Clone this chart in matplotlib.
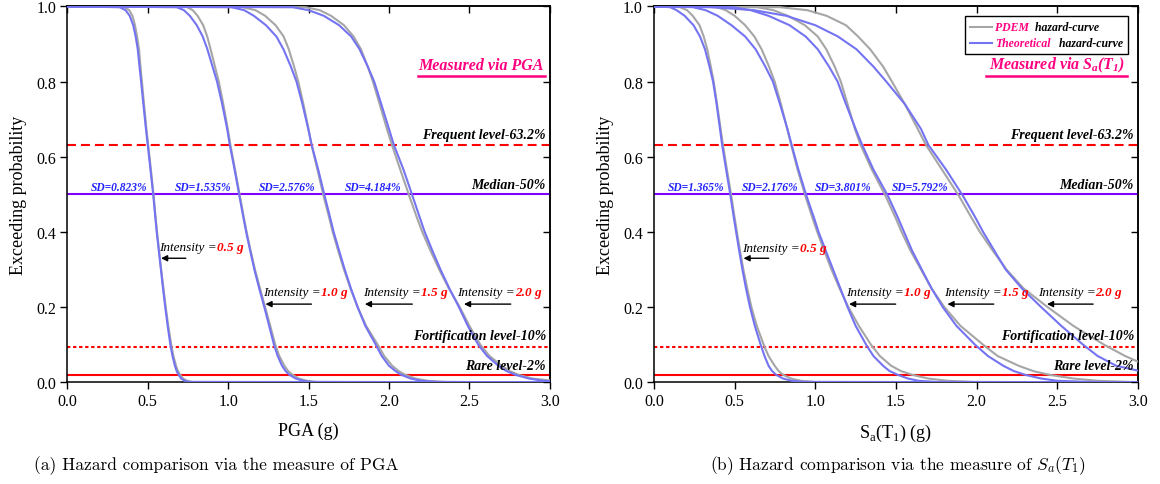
import matplotlib
matplotlib.use('Agg')
from matplotlib import pyplot as pl
from matplotlib.lines import Line2D
from matplotlib.offsetbox import (AnchoredOffsetbox, AnnotationBbox,
                                  DrawingArea, HPacker, TextArea, VPacker)

pl.rcParams['font.family'] = 'Liberation Serif'

levels = [1.0, 0.998, 0.99, 0.975, 0.95, 0.92, 0.886, 0.84, 0.80, 0.74, 0.674,
          0.632, 0.566, 0.496, 0.44, 0.40, 0.35, 0.30, 0.25, 0.20, 0.15, 0.10,
          0.07, 0.044, 0.03, 0.02, 0.01, 0.004, 0.001]

# ---- PGA panel: intensity (g) reached at each level ----
pga_05_theo = [0, 0.325, 0.362, 0.388, 0.41, 0.425, 0.438, 0.449, 0.459, 0.473, 0.489, 0.50, 0.517, 0.535, 0.547, 0.556, 0.569, 0.582, 0.595, 0.609, 0.624, 0.641, 0.654, 0.669, 0.68, 0.692, 0.708, 0.73, 0.76]
pga_05_pdem = [0, 0.355, 0.385, 0.405, 0.421, 0.434, 0.446, 0.455, 0.464, 0.477, 0.492, 0.503, 0.52, 0.537, 0.549, 0.558, 0.571, 0.584, 0.598, 0.612, 0.628, 0.646, 0.66, 0.676, 0.688, 0.702, 0.72, 0.745, 0.78]
pga_10_theo = [0, 0.68, 0.725, 0.762, 0.805, 0.842, 0.871, 0.903, 0.931, 0.963, 0.994, 1.01, 1.04, 1.07, 1.094, 1.112, 1.137, 1.163, 1.193, 1.225, 1.255, 1.285, 1.308, 1.335, 1.357, 1.38, 1.42, 1.465, 1.52]
pga_10_pdem = [0, 0.745, 0.78, 0.81, 0.845, 0.87, 0.891, 0.918, 0.942, 0.97, 0.998, 1.014, 1.043, 1.073, 1.097, 1.115, 1.14, 1.167, 1.198, 1.23, 1.262, 1.293, 1.318, 1.35, 1.373, 1.40, 1.44, 1.49, 1.55]
pga_15_theo = [0, 1.02, 1.10, 1.16, 1.235, 1.30, 1.344, 1.39, 1.425, 1.462, 1.498, 1.519, 1.56, 1.60, 1.633, 1.656, 1.69, 1.725, 1.763, 1.805, 1.853, 1.918, 1.955, 2.0, 2.04, 2.075, 2.135, 2.2, 2.3]
pga_15_pdem = [0, 1.09, 1.17, 1.23, 1.295, 1.345, 1.377, 1.41, 1.436, 1.468, 1.50, 1.518, 1.555, 1.593, 1.627, 1.65, 1.684, 1.72, 1.76, 1.805, 1.858, 1.93, 1.97, 2.02, 2.06, 2.10, 2.165, 2.24, 2.35]
pga_20_theo = [0, 1.40, 1.50, 1.595, 1.69, 1.765, 1.817, 1.868, 1.908, 1.952, 2.0, 2.03, 2.09, 2.146, 2.19, 2.222, 2.27, 2.32, 2.375, 2.435, 2.49, 2.555, 2.61, 2.68, 2.73, 2.785, 2.87, 2.96]
pga_20_pdem = [0, 1.48, 1.57, 1.64, 1.72, 1.78, 1.826, 1.868, 1.90, 1.942, 1.987, 2.018, 2.07, 2.126, 2.172, 2.207, 2.258, 2.312, 2.372, 2.44, 2.50, 2.568, 2.625, 2.70, 2.75, 2.805, 2.89]

# ---- Sa(T1) panel ----
sa_05_theo = [0, 0.10, 0.14, 0.19, 0.245, 0.285, 0.316, 0.344, 0.366, 0.388, 0.409, 0.422, 0.447, 0.474, 0.494, 0.509, 0.528, 0.548, 0.57, 0.595, 0.625, 0.661, 0.685, 0.71, 0.732, 0.757, 0.80, 0.855, 0.93]
sa_05_pdem = [0, 0.16, 0.205, 0.24, 0.282, 0.308, 0.33, 0.352, 0.37, 0.391, 0.413, 0.427, 0.452, 0.479, 0.499, 0.514, 0.533, 0.554, 0.578, 0.604, 0.637, 0.68, 0.71, 0.748, 0.772, 0.80, 0.85, 0.91, 1.0]
sa_10_theo = [0, 0.24, 0.32, 0.395, 0.48, 0.565, 0.63, 0.69, 0.737, 0.781, 0.827, 0.853, 0.895, 0.945, 0.99, 1.02, 1.065, 1.11, 1.155, 1.20, 1.25, 1.315, 1.36, 1.42, 1.46, 1.51, 1.575, 1.64, 1.75]
sa_10_pdem = [0, 0.39, 0.445, 0.50, 0.565, 0.622, 0.667, 0.713, 0.748, 0.787, 0.826, 0.85, 0.89, 0.938, 0.98, 1.012, 1.055, 1.10, 1.15, 1.205, 1.27, 1.345, 1.40, 1.47, 1.53, 1.60, 1.70, 1.82, 1.98]
sa_15_theo = [0, 0.49, 0.60, 0.71, 0.84, 0.94, 1.015, 1.085, 1.138, 1.19, 1.25, 1.29, 1.36, 1.45, 1.51, 1.55, 1.60, 1.66, 1.72, 1.79, 1.875, 1.99, 2.07, 2.165, 2.23, 2.30, 2.40, 2.50, 2.70]
sa_15_pdem = [0, 0.64, 0.74, 0.83, 0.935, 1.015, 1.068, 1.12, 1.158, 1.20, 1.245, 1.28, 1.35, 1.435, 1.495, 1.535, 1.59, 1.655, 1.72, 1.80, 1.90, 2.04, 2.13, 2.26, 2.35, 2.45, 2.60, 2.75, 2.95]
sa_20_theo = [0, 0.35, 0.62, 0.82, 1.0, 1.14, 1.255, 1.36, 1.44, 1.555, 1.655, 1.70, 1.81, 1.915, 1.99, 2.04, 2.11, 2.18, 2.28, 2.40, 2.525, 2.66, 2.75, 2.865]
sa_20_pdem = [0, 0.78, 0.95, 1.07, 1.19, 1.265, 1.34, 1.42, 1.475, 1.555, 1.635, 1.685, 1.785, 1.89, 1.965, 2.02, 2.10, 2.185, 2.29, 2.44, 2.60, 2.79, 2.92]

# probability left at the right edge (x = 3.0 g) of each curve, same order as above
pga_end_theo = [0.0, 0.0, 0.0, 0.003]
pga_end_pdem = [0.0, 0.0, 0.0, 0.005]
sa_end_theo = [0.0, 0.0, 0.0, 0.031]
sa_end_pdem = [0.0, 0.0, 0.001, 0.055]

# reference levels
level_values = [0.632, 0.5, 0.095, 0.02]
level_labels = ['Frequent level-63.2%', 'Median-50%', 'Fortification level-10%', 'Rare level-2%']

intensity_labels = ['0.5 g', '1.0 g', '1.5 g', '2.0 g']

pga_sd_labels = ['SD=0.823%', 'SD=1.535%', 'SD=2.576%', 'SD=4.184%']
pga_sd_x = [0.325, 0.846, 1.365, 1.90]
sa_sd_labels = ['SD=1.365%', 'SD=2.176%', 'SD=3.801%', 'SD=5.792%']
sa_sd_x = [0.26, 0.72, 1.175, 1.647]

# intensity annotation text anchors and arrow tail/head
pga_text_x = [0.572, 1.22, 1.84, 2.424]
pga_text_y = [0.36, 0.24, 0.24, 0.24]
pga_arrow_tail = [0.737, 1.518, 2.145, 2.757]
pga_arrow_head = [0.583, 1.232, 1.85, 2.466]
pga_arrow_y = [0.33, 0.208, 0.208, 0.208]

sa_text_x = [0.544, 1.193, 1.80, 2.378]
sa_text_y = [0.356, 0.24, 0.24, 0.24]
sa_arrow_tail = [0.711, 1.498, 2.106, 2.722]
sa_arrow_head = [0.555, 1.209, 1.819, 2.436]
sa_arrow_y = [0.33, 0.208, 0.208, 0.208]

GRAY = '#a6a6a6'
BLUE = '#7474f2'
PINK = '#ff0080'
RED = '#ff0000'
PURPLE = '#8000ff'
SDBLUE = '#2222ff'


def curve(xs, end):
    # the read levels, then the value at the right edge of the axis
    return list(xs) + [3.0], levels[:len(xs)] + [end]


def draw_panel(ax, pdem, theo, end_pdem, end_theo, sd_labels, sd_x,
               text_x, text_y, arrow_tail, arrow_head, arrow_y,
               measured, line_span, xlabel):

    for xp, xt, ep, et in zip(pdem, theo, end_pdem, end_theo):
        ax.plot(*curve(xp, ep), color=GRAY, lw=1.5, zorder=3)
        ax.plot(*curve(xt, et), color=BLUE, lw=1.5, zorder=4)

    styles = [dict(color=RED, ls=(0, (4.3, 2.4))),
              dict(color=PURPLE, ls='-'),
              dict(color=RED, ls=(0, (1.6, 1.3))),
              dict(color=RED, ls='-')]
    offsets = [0.028, 0.025, 0.029, 0.026]
    for val, lab, st, off in zip(level_values, level_labels, styles, offsets):
        ax.axhline(val, lw=1.5, zorder=2, **st)
        ax.text(2.975, val+off, lab, ha='right', va='center', fontsize=10,
                style='italic', weight='bold', color='k', zorder=6)

    for lab, x in zip(sd_labels, sd_x):
        ax.text(x, 0.52, lab, ha='center', va='center', fontsize=8.3,
                style='italic', weight='bold', color=SDBLUE, zorder=6)

    for lab, x, y, t, h, ay in zip(intensity_labels, text_x, text_y,
                                   arrow_tail, arrow_head, arrow_y):
        box = HPacker(children=[
            TextArea('Intensity =', textprops=dict(style='italic', fontsize=9.5, color='k')),
            TextArea(lab, textprops=dict(style='italic', weight='bold', fontsize=9.5, color=RED))],
            sep=0, pad=0, align='baseline')
        ab = AnnotationBbox(box, (x, y), box_alignment=(0, 0.5),
                            frameon=False, pad=0, zorder=7)
        ax.add_artist(ab)
        ax.annotate('', xy=(h, ay), xytext=(t, ay),
                    arrowprops=dict(arrowstyle='-|>', color='k', lw=1,
                                    mutation_scale=9, shrinkA=0, shrinkB=0),
                    zorder=7)

    ax.text(line_span[1]-0.01, 0.845, measured, ha='right', va='center',
            fontsize=11.5, style='italic', weight='bold', color=PINK)
    ax.axhline(0.815, xmin=line_span[0]/3.0, xmax=line_span[1]/3.0,
               color=PINK, lw=1.8)

    ax.set_xlim(0, 3.0)
    ax.set_ylim(0, 1.0)
    ticks_x = [0.0, 0.5, 1.0, 1.5, 2.0, 2.5, 3.0]
    ticks_y = [0.0, 0.2, 0.4, 0.6, 0.8, 1.0]
    ax.set_xticks(ticks_x)
    ax.set_yticks(ticks_y)
    ax.set_xticklabels(['{:.1f}'.format(t) for t in ticks_x])
    ax.set_yticklabels(['{:.1f}'.format(t) for t in ticks_y])
    ax.tick_params(direction='out', length=5, width=1, labelsize=11.5, pad=3)

    top = ax.secondary_xaxis('top')
    top.set_xticks(ticks_x)
    top.tick_params(direction='in', length=5, width=1, labeltop=False)
    right = ax.secondary_yaxis('right')
    right.set_yticks(ticks_y)
    right.tick_params(direction='in', length=5, width=1, labelright=False)
    for sp in list(ax.spines.values()) + [top.spines['top'], right.spines['right']]:
        sp.set_linewidth(1.1)

    ax.set_xlabel(xlabel, fontsize=13)
    ax.set_ylabel('Exceeding probability', fontsize=13)
    ax.xaxis.set_label_coords(0.5, -0.105)
    ax.yaxis.set_label_coords(-0.083, 0.5)


fig = pl.figure(figsize=(11.6, 4.85), dpi=100)
ax1 = fig.add_axes([0.058, 0.2097, 0.416, 0.775])
ax2 = fig.add_axes([0.5638, 0.2097, 0.4172, 0.775])

draw_panel(ax1,
           [pga_05_pdem, pga_10_pdem, pga_15_pdem, pga_20_pdem],
           [pga_05_theo, pga_10_theo, pga_15_theo, pga_20_theo],
           pga_end_pdem, pga_end_theo, pga_sd_labels, pga_sd_x,
           pga_text_x, pga_text_y, pga_arrow_tail, pga_arrow_head, pga_arrow_y,
           'Measured via PGA', (2.18, 2.97), 'PGA (g)')
draw_panel(ax2,
           [sa_05_pdem, sa_10_pdem, sa_15_pdem, sa_20_pdem],
           [sa_05_theo, sa_10_theo, sa_15_theo, sa_20_theo],
           sa_end_pdem, sa_end_theo, sa_sd_labels, sa_sd_x,
           sa_text_x, sa_text_y, sa_arrow_tail, sa_arrow_head, sa_arrow_y,
           r'Measured via S$_\mathregular{a}$(T$_\mathregular{1}$)', (2.056, 2.93),
           r'S$_\mathregular{a}$(T$_\mathregular{1}$) (g)')

# legend with two-colour labels
rows = []
for col, name, rest in [(GRAY, 'PDEM', ' hazard-curve'),
                        (BLUE, 'Theoretical', '  hazard-curve')]:
    da = DrawingArea(16, 8, 0, 0)
    da.add_artist(Line2D([0, 16], [4, 4], color=col, lw=1.5))
    rows.append(HPacker(children=[
        da,
        TextArea(name, textprops=dict(style='italic', weight='bold', fontsize=8.5, color=PINK)),
        TextArea(rest, textprops=dict(style='italic', weight='bold', fontsize=8.5, color='k'))],
        sep=2, pad=0, align='center'))
leg = AnchoredOffsetbox(loc='upper right', child=VPacker(children=rows, sep=3, pad=0, align='left'),
                        pad=0.35, borderpad=0.7, frameon=True)
leg.patch.set_boxstyle('square', pad=0)
leg.patch.set_edgecolor('k')
leg.patch.set_linewidth(1)
leg.zorder = 8
ax2.add_artist(leg)

fig.text(0.186, 0.039, '(a) Hazard comparison via the measure of PGA',
         ha='center', va='center', fontsize=12.5, family='cmr10')
fig.text(0.774, 0.039, '(b) Hazard comparison via the measure of $S_a(T_1)$',
         ha='center', va='center', fontsize=12.5, family='cmr10', math_fontfamily='cm')

fig.savefig('out.png', dpi=100)
